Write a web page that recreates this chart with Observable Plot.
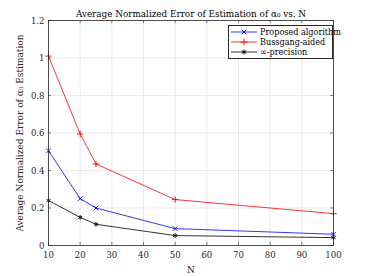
<!DOCTYPE html>
<html><head><meta charset="utf-8">
<script src="https://cdn.jsdelivr.net/npm/d3@7"></script>
<script src="https://cdn.jsdelivr.net/npm/@observablehq/plot@0.6"></script>
<style>
body{margin:0;background:#fff;}
#wrap{position:relative;width:368px;height:276px;font-family:'DejaVu Serif Condensed','DejaVu Serif',serif;font-stretch:condensed;}
#chart svg, #chart svg text{font-family:'DejaVu Serif Condensed','DejaVu Serif',serif !important;font-stretch:condensed;}
#legend{position:absolute;left:228px;top:25px;width:103px;border:1px solid #262626;background:#fff;font-size:9px;line-height:10px;padding:1px 0 1px 0;color:#000;}
#legend div{display:flex;align-items:center;height:10px;white-space:nowrap;}
#legend svg{margin:0 2px 0 1px;flex:none;}
</style></head>
<body><div id="wrap"><div id="chart"></div><div id="legend"></div></div>
<script>
const N = [10, 20, 25, 50, 100];
const proposed = [0.505, 0.25, 0.20, 0.09, 0.06];
const bussgang = [1.01, 0.595, 0.435, 0.245, 0.17];
const infPrec = [0.24, 0.15, 0.113, 0.053, 0.042];
const seriesNames = ["Proposed algorithm", "Bussgang-aided", "\u221E-precision"];
const seriesColors = ["#0000ff", "#ff0000", "#000000"];
const seriesSymbols = ["times", "plus", "asterisk"];
const xTicks = [10, 20, 30, 40, 50, 60, 70, 80, 90, 100];
const yTicks = [0, 0.2, 0.4, 0.6, 0.8, 1, 1.2];
const titleText = "Average Normalized Error of Estimation of \u03B1\u2080 vs. N";
const yLabel = "Average Normalized Error of \u03B1\u2080 Estimation";
const xLabel = "N";

const seriesVals = [proposed, bussgang, infPrec];
const data = [];
seriesVals.forEach((vals, si) => vals.forEach((v, i) => data.push({N: N[i], v, s: seriesNames[si]})));

const font = "'DejaVu Serif Condensed','DejaVu Serif',serif";
const tl = 0.014, tx = 0.9;
const plot = Plot.plot({
  width: 368, height: 276,
  marginLeft: 48, marginRight: 35, marginTop: 20, marginBottom: 31,
  style: {fontFamily: font, fontSize: "9px", background: "#fff", color: "#262626"},
  x: {domain: [10, 100], ticks: xTicks, tickFormat: d => String(d)},
  y: {domain: [0, 1.2], ticks: yTicks, tickFormat: d => String(d)},
  color: {domain: seriesNames, range: seriesColors},
  symbol: {domain: seriesNames, range: seriesSymbols},
  marks: [
    Plot.gridX(xTicks, {stroke: "#dcdcdc", strokeOpacity: 1, strokeWidth: 0.6}),
    Plot.gridY(yTicks, {stroke: "#dcdcdc", strokeOpacity: 1, strokeWidth: 0.6}),
    Plot.ruleX(xTicks, {y1: 0, y2: 1.2 * tl, stroke: "#262626", strokeWidth: 0.6}),
    Plot.ruleX(xTicks, {y1: 1.2, y2: 1.2 * (1 - tl), stroke: "#262626", strokeWidth: 0.6}),
    Plot.ruleY(yTicks, {x1: 10, x2: 10 + tx, stroke: "#262626", strokeWidth: 0.6}),
    Plot.ruleY(yTicks, {x1: 100, x2: 100 - tx, stroke: "#262626", strokeWidth: 0.6}),
    Plot.axisX({ticks: xTicks, tickSize: 0, tickPadding: 6, label: null, fontSize: 9.5, fontFamily: font, tickFormat: d => String(d)}),
    Plot.axisY({ticks: yTicks, tickSize: 0, tickPadding: 4, label: null, fontSize: 9.5, fontFamily: font, tickFormat: d => String(d)}),
    Plot.axisX({ticks: [], label: xLabel, labelAnchor: "center", labelArrow: "none", labelOffset: 27, fontSize: 10, fontFamily: font}),
    Plot.axisY({ticks: [], label: yLabel, labelAnchor: "center", labelArrow: "none", labelOffset: 33, fontSize: 10, fontFamily: font}),
    Plot.line(data, {x: "N", y: "v", z: "s", stroke: "s", strokeWidth: 0.8}),
    Plot.dot(data, {x: "N", y: "v", stroke: "s", symbol: "s", r: 2.2, strokeWidth: 0.9}),
    Plot.frame({stroke: "#262626", strokeWidth: 0.8}),
    Plot.text([titleText], {frameAnchor: "top", dy: -10, text: d => d, fontSize: 9.8, fill: "#000", fontFamily: font})
  ]
});
document.getElementById("chart").appendChild(plot);

const leg = document.getElementById("legend");
seriesNames.forEach((name, i) => {
  const row = document.createElement("div");
  const sym = d3.symbol(d3["symbol" + {times: "Times", plus: "Plus", asterisk: "Asterisk"}[seriesSymbols[i]]], 18)();
  row.innerHTML = `<svg width="28" height="10"><line x1="1" y1="5" x2="27" y2="5" stroke="${seriesColors[i]}" stroke-width="0.8"/><path d="${sym}" transform="translate(14,5)" fill="none" stroke="${seriesColors[i]}" stroke-width="0.9"/></svg><span>${name}</span>`;
  leg.appendChild(row);
});
</script></body></html>
